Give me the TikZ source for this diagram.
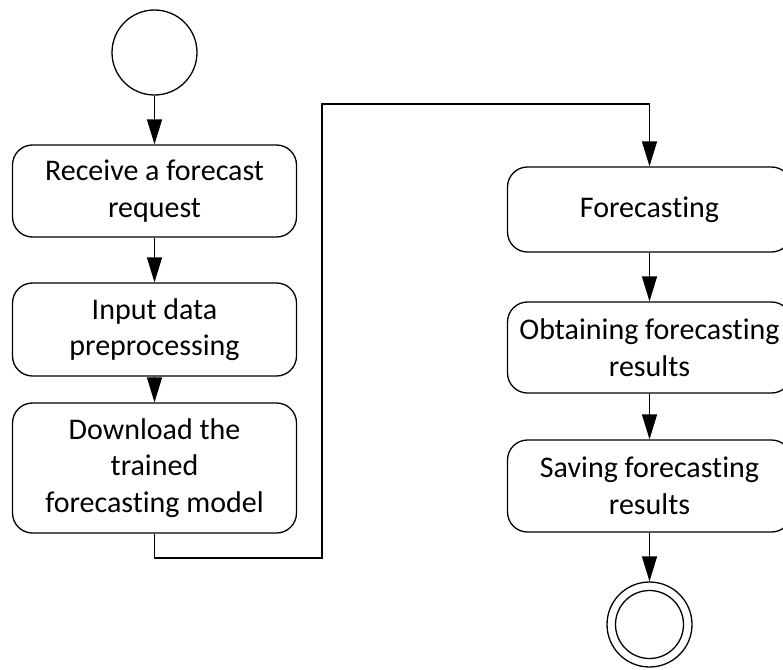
\documentclass[tikz,border=0pt]{standalone}
\usepackage{fontspec}
\setmainfont{Carlito}[Ligatures={NoCommon,NoRare,NoContextual}]
\usetikzlibrary{arrows.meta}
\begin{document}
\begin{tikzpicture}[x=1pt,y=-1pt,
  line width=1.3pt,
  activity/.style={draw, rounded corners=20pt, minimum width=284pt,
    inner sep=0pt, align=center, font=\fontsize{30}{36.6}\selectfont},
  flow/.style={-{Triangle[length=25pt,width=15pt]}},
  startnode/.style={draw, circle, minimum size=85pt, inner sep=0pt},
]
\useasboundingbox (0,0) rectangle (783,669);
\begin{scope}
\clip (0,0) rectangle (783,669);
% left column
\node[startnode] (start) at (154.5,52.5) {};
\node[activity, minimum height=92pt] (recv) at (154.5,191) {Receive a forecast\\request};
\node[activity, minimum height=93pt] (prep) at (154.5,329.5) {Input data\\preprocessing};
\node[activity, minimum height=130pt] (load) at (154.5,468) {Download the\\trained\\forecasting model};
% right column
\node[activity, minimum height=85pt] (fore) at (649.5,209.5) {Forecasting};
\node[activity, minimum height=91pt] (obt) at (649.5,347.5) {Obtaining forecasting\\results};
\node[activity, minimum height=92pt] (save) at (649.5,486) {Saving forecasting\\results};
\node[startnode] (final) at (649.5,624.5) {};
\draw (final.center) circle (34pt);
% connectors
\coordinate (c1) at (154.5,558);
\coordinate (c2) at (322,558);
\coordinate (c3) at (322,104);
\coordinate (c4) at (649.5,104);
\draw[flow] (start) -- (recv);
\draw[flow] (recv) -- (prep);
\draw[flow] (prep) -- (load);
\draw[flow] (load.south) -- (c1) -- (c2) -- (c3) -- (c4) -- (fore.north);
\draw[flow] (fore) -- (obt);
\draw[flow] (obt) -- (save);
\draw[flow] (save) -- (final);
\end{scope}
\end{tikzpicture}
\end{document}
